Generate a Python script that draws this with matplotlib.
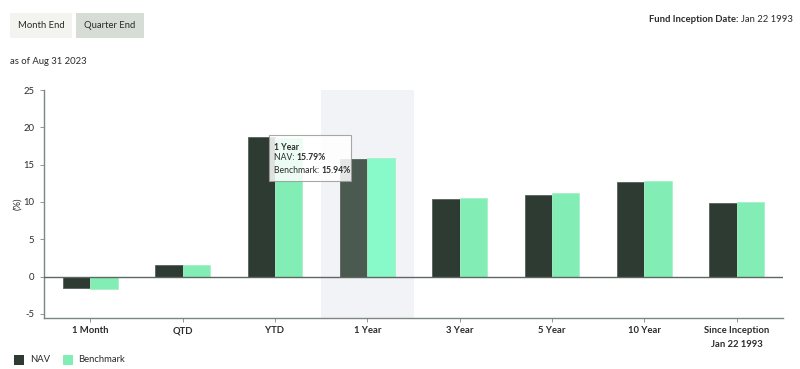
import matplotlib
matplotlib.use("Agg")
import matplotlib.pyplot as plt
from matplotlib.patches import Rectangle
import numpy as np

categories = ["1 Month", "QTD", "YTD", "1 Year", "3 Year", "5 Year", "10 Year", "Since Inception\nJan 22 1993"]
nav = [-1.58, 1.53, 18.73, 15.79, 10.40, 10.98, 12.69, 9.90]
benchmark = [-1.60, 1.60, 18.55, 15.94, 10.58, 11.20, 12.86, 10.04]
yticks = [-5, 0, 5, 10, 15, 20, 25]
highlight = 3

plt.rcParams['font.family'] = ['Lato', 'DejaVu Sans']

W, H = 800, 369
fig = plt.figure(figsize=(W/100, H/100), dpi=100)
fig.patch.set_facecolor("white")

def fx(px): return px / W
def fy(py): return 1 - py / H

ax = fig.add_axes([fx(44), fy(318), (783-44)/W, (318-90)/H])
ax.set_xlim(-0.5, len(categories) - 0.5)
ax.set_ylim(-5.55, 25)

nav_c = "#2d3b32"
bm_c = "#82edb4"
nav_h = "#4a5a50"
bm_h = "#88f9c8"
txt_c = "#2b2b2b"
FS = 6.8

x = np.arange(len(categories))
w = 0.296
ax.axvspan(highlight - 0.5, highlight + 0.5, color="#f2f3f7", zorder=0, lw=0)
nav_cols = [nav_h if i == highlight else nav_c for i in range(len(x))]
bm_cols = [bm_h if i == highlight else bm_c for i in range(len(x))]
ax.bar(x - w/2, nav, w, color=nav_cols, edgecolor="#56625a", linewidth=0.6, zorder=2)
ax.bar(x + w/2, benchmark, w, color=bm_cols, edgecolor="#a8f0c8", linewidth=0.6, zorder=2)
ax.axhline(0, color="#5d6862", lw=1.0, zorder=3)

for s in ["top", "right"]:
    ax.spines[s].set_visible(False)
for s in ["left", "bottom"]:
    ax.spines[s].set_color("#7d8782")
    ax.spines[s].set_linewidth(1.0)
ax.set_yticks(yticks)
ax.set_yticklabels([str(v) for v in yticks], fontsize=FS, color=txt_c)
ax.set_xticks(x)
ax.set_xticklabels(categories, fontsize=FS, fontweight="bold", color=txt_c, linespacing=1.6)
ax.tick_params(axis="both", length=3, width=0.6, color="#7d8782")
ax.tick_params(axis="x", pad=3)
ax.tick_params(axis="y", pad=4)
ax.set_ylabel("(%)", fontsize=FS, color=txt_c, labelpad=1)

# Tooltip
tx0, ty0, tx1, ty1 = 269, 135, 351, 181
tip = Rectangle((fx(tx0), fy(ty1)), (tx1-tx0)/W, (ty1-ty0)/H, transform=fig.transFigure,
                facecolor="white", alpha=0.86, edgecolor="#9a9a9a", linewidth=0.8, zorder=10)
fig.patches.append(tip)
fig.canvas.draw()
r = fig.canvas.get_renderer()

def rich(xp, yp, parts, size=6.2):
    cur = xp
    for txt, bold in parts:
        t = fig.text(fx(cur), fy(yp), txt, fontsize=size, fontweight="bold" if bold else "normal",
                     color=txt_c, va="center", ha="left", zorder=11)
        bb = t.get_window_extent(renderer=r)
        cur += bb.width

rich(274, 147, [("1 Year", True)])
rich(274, 158, [("NAV: ", False), (f"{nav[highlight]:.2f}%", True)])
rich(274, 170, [("Benchmark: ", False), (f"{benchmark[highlight]:.2f}%", True)])

# Buttons
for (x0, x1, col, label) in [(10, 72, "#f3f4ef", "Month End"), (76, 144, "#d5ddd5", "Quarter End")]:
    fig.patches.append(Rectangle((fx(x0), fy(38)), (x1-x0)/W, 25/H, transform=fig.transFigure,
                                 facecolor=col, edgecolor="none"))
    fig.text(fx((x0+x1)/2), fy(25.5), label, fontsize=FS, color=txt_c, ha="center", va="center")

fig.text(fx(10), fy(62), "as of Aug 31 2023", fontsize=FS, color=txt_c, ha="left", va="center")

# Fund inception (right aligned)
t2 = fig.text(fx(793), fy(19), "Jan 22 1993", fontsize=FS, color=txt_c, ha="right", va="center")
fig.canvas.draw()
bb = t2.get_window_extent(renderer=r)
fig.text(bb.x0 / W, fy(19), "Fund Inception Date: ", fontsize=FS, fontweight="bold",
         color=txt_c, ha="right", va="center")

# Legend
fig.patches.append(Rectangle((fx(14), fy(365)), 10/W, 10/H, transform=fig.transFigure, facecolor=nav_c))
fig.text(fx(30), fy(360), "NAV", fontsize=FS, color=txt_c, va="center")
fig.patches.append(Rectangle((fx(63), fy(365)), 10/W, 10/H, transform=fig.transFigure, facecolor=bm_c))
fig.text(fx(78), fy(360), "Benchmark", fontsize=FS, color=txt_c, va="center")

fig.savefig("out.png", dpi=100, facecolor="white")
